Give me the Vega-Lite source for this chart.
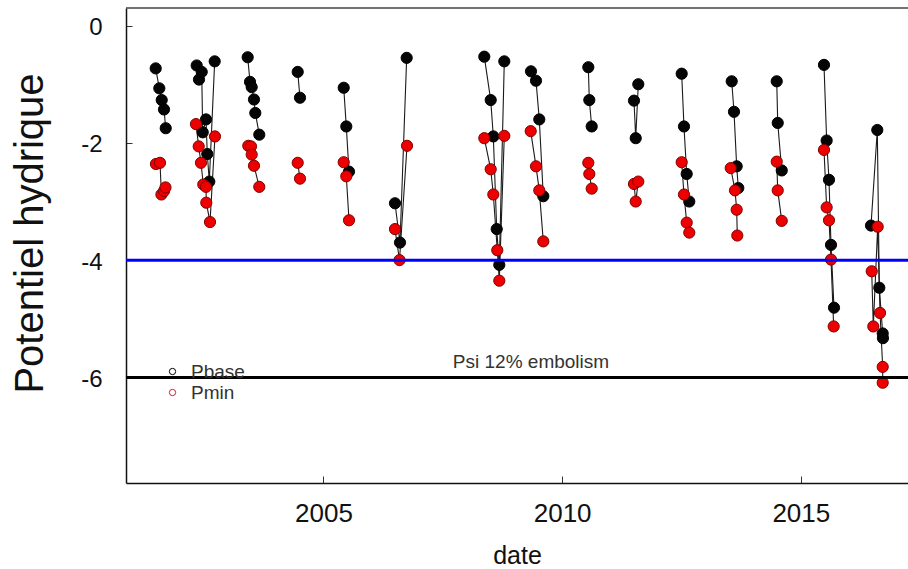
{
  "$schema": "https://vega.github.io/schema/vega-lite/v6.json",
  "width": 782,
  "height": 475,
  "autosize": {"type": "none"},
  "padding": {"left": 126, "top": 8, "right": 0, "bottom": 86},
  "background": "white",
  "config": {"view": {"stroke": null}, "font": "Liberation Sans", "axis": {"grid": false}},
  "data": {"values": [
    {"campaign": 2001, "series": "Pbase", "date": 2001.485, "value": -0.73},
    {"campaign": 2001, "series": "Pbase", "date": 2001.561, "value": -1.07},
    {"campaign": 2001, "series": "Pbase", "date": 2001.611, "value": -1.27},
    {"campaign": 2001, "series": "Pbase", "date": 2001.659, "value": -1.43},
    {"campaign": 2001, "series": "Pbase", "date": 2001.695, "value": -1.75},
    {"campaign": 2001, "series": "Pmin", "date": 2001.491, "value": -2.36},
    {"campaign": 2001, "series": "Pmin", "date": 2001.575, "value": -2.34},
    {"campaign": 2001, "series": "Pmin", "date": 2001.605, "value": -2.88},
    {"campaign": 2001, "series": "Pmin", "date": 2001.66, "value": -2.82},
    {"campaign": 2001, "series": "Pmin", "date": 2001.69, "value": -2.76},
    {"campaign": 2002, "series": "Pbase", "date": 2002.344, "value": -0.68},
    {"campaign": 2002, "series": "Pbase", "date": 2002.392, "value": -0.92},
    {"campaign": 2002, "series": "Pbase", "date": 2002.449, "value": -0.79},
    {"campaign": 2002, "series": "Pbase", "date": 2002.47, "value": -1.82},
    {"campaign": 2002, "series": "Pbase", "date": 2002.539, "value": -1.6},
    {"campaign": 2002, "series": "Pbase", "date": 2002.566, "value": -2.19},
    {"campaign": 2002, "series": "Pbase", "date": 2002.608, "value": -2.66},
    {"campaign": 2002, "series": "Pbase", "date": 2002.721, "value": -0.61},
    {"campaign": 2002, "series": "Pmin", "date": 2002.329, "value": -1.68},
    {"campaign": 2002, "series": "Pmin", "date": 2002.386, "value": -2.06},
    {"campaign": 2002, "series": "Pmin", "date": 2002.434, "value": -2.34},
    {"campaign": 2002, "series": "Pmin", "date": 2002.482, "value": -2.71},
    {"campaign": 2002, "series": "Pmin", "date": 2002.539, "value": -2.75},
    {"campaign": 2002, "series": "Pmin", "date": 2002.545, "value": -3.02},
    {"campaign": 2002, "series": "Pmin", "date": 2002.623, "value": -3.35},
    {"campaign": 2002, "series": "Pmin", "date": 2002.727, "value": -1.89},
    {"campaign": 2003, "series": "Pbase", "date": 2003.412, "value": -0.54},
    {"campaign": 2003, "series": "Pbase", "date": 2003.461, "value": -0.96},
    {"campaign": 2003, "series": "Pbase", "date": 2003.496, "value": -1.05},
    {"campaign": 2003, "series": "Pbase", "date": 2003.544, "value": -1.26},
    {"campaign": 2003, "series": "Pbase", "date": 2003.572, "value": -1.49},
    {"campaign": 2003, "series": "Pbase", "date": 2003.655, "value": -1.86},
    {"campaign": 2003, "series": "Pmin", "date": 2003.425, "value": -2.05},
    {"campaign": 2003, "series": "Pmin", "date": 2003.482, "value": -2.06},
    {"campaign": 2003, "series": "Pmin", "date": 2003.496, "value": -2.2},
    {"campaign": 2003, "series": "Pmin", "date": 2003.544, "value": -2.39},
    {"campaign": 2003, "series": "Pmin", "date": 2003.655, "value": -2.75},
    {"campaign": 2004, "series": "Pbase", "date": 2004.46, "value": -0.79},
    {"campaign": 2004, "series": "Pbase", "date": 2004.508, "value": -1.23},
    {"campaign": 2004, "series": "Pmin", "date": 2004.46, "value": -2.34},
    {"campaign": 2004, "series": "Pmin", "date": 2004.508, "value": -2.61},
    {"campaign": 2005, "series": "Pbase", "date": 2005.424, "value": -1.06},
    {"campaign": 2005, "series": "Pbase", "date": 2005.478, "value": -1.72},
    {"campaign": 2005, "series": "Pbase", "date": 2005.535, "value": -2.49},
    {"campaign": 2005, "series": "Pmin", "date": 2005.424, "value": -2.33},
    {"campaign": 2005, "series": "Pmin", "date": 2005.478, "value": -2.57},
    {"campaign": 2005, "series": "Pmin", "date": 2005.535, "value": -3.32},
    {"campaign": 2006, "series": "Pbase", "date": 2006.498, "value": -3.03},
    {"campaign": 2006, "series": "Pbase", "date": 2006.603, "value": -3.7},
    {"campaign": 2006, "series": "Pbase", "date": 2006.743, "value": -0.55},
    {"campaign": 2006, "series": "Pmin", "date": 2006.498, "value": -3.47},
    {"campaign": 2006, "series": "Pmin", "date": 2006.593, "value": -4.0},
    {"campaign": 2006, "series": "Pmin", "date": 2006.75, "value": -2.05},
    {"campaign": 2008, "series": "Pbase", "date": 2008.369, "value": -0.53},
    {"campaign": 2008, "series": "Pbase", "date": 2008.503, "value": -1.27},
    {"campaign": 2008, "series": "Pbase", "date": 2008.558, "value": -1.89},
    {"campaign": 2008, "series": "Pbase", "date": 2008.629, "value": -3.47},
    {"campaign": 2008, "series": "Pbase", "date": 2008.683, "value": -4.08},
    {"campaign": 2008, "series": "Pbase", "date": 2008.788, "value": -0.61},
    {"campaign": 2008, "series": "Pmin", "date": 2008.369, "value": -1.92},
    {"campaign": 2008, "series": "Pmin", "date": 2008.503, "value": -2.45},
    {"campaign": 2008, "series": "Pmin", "date": 2008.558, "value": -2.88},
    {"campaign": 2008, "series": "Pmin", "date": 2008.641, "value": -3.83},
    {"campaign": 2008, "series": "Pmin", "date": 2008.683, "value": -4.35},
    {"campaign": 2008, "series": "Pmin", "date": 2008.788, "value": -1.88},
    {"campaign": 2009, "series": "Pbase", "date": 2009.347, "value": -0.78},
    {"campaign": 2009, "series": "Pbase", "date": 2009.452, "value": -0.94},
    {"campaign": 2009, "series": "Pbase", "date": 2009.521, "value": -1.6},
    {"campaign": 2009, "series": "Pbase", "date": 2009.605, "value": -2.91},
    {"campaign": 2009, "series": "Pmin", "date": 2009.341, "value": -1.8},
    {"campaign": 2009, "series": "Pmin", "date": 2009.452, "value": -2.4},
    {"campaign": 2009, "series": "Pmin", "date": 2009.521, "value": -2.81},
    {"campaign": 2009, "series": "Pmin", "date": 2009.605, "value": -3.68},
    {"campaign": 2010, "series": "Pbase", "date": 2010.548, "value": -0.71},
    {"campaign": 2010, "series": "Pbase", "date": 2010.569, "value": -1.27},
    {"campaign": 2010, "series": "Pbase", "date": 2010.619, "value": -1.72},
    {"campaign": 2010, "series": "Pmin", "date": 2010.548, "value": -2.34},
    {"campaign": 2010, "series": "Pmin", "date": 2010.569, "value": -2.53},
    {"campaign": 2010, "series": "Pmin", "date": 2010.619, "value": -2.78},
    {"campaign": 2011, "series": "Pbase", "date": 2011.505, "value": -1.28},
    {"campaign": 2011, "series": "Pbase", "date": 2011.541, "value": -1.92},
    {"campaign": 2011, "series": "Pbase", "date": 2011.595, "value": -1.0},
    {"campaign": 2011, "series": "Pmin", "date": 2011.505, "value": -2.7},
    {"campaign": 2011, "series": "Pmin", "date": 2011.541, "value": -3.0},
    {"campaign": 2011, "series": "Pmin", "date": 2011.595, "value": -2.66},
    {"campaign": 2012, "series": "Pbase", "date": 2012.504, "value": -0.82},
    {"campaign": 2012, "series": "Pbase", "date": 2012.552, "value": -1.72},
    {"campaign": 2012, "series": "Pbase", "date": 2012.609, "value": -2.53},
    {"campaign": 2012, "series": "Pbase", "date": 2012.663, "value": -3.0},
    {"campaign": 2012, "series": "Pmin", "date": 2012.504, "value": -2.33},
    {"campaign": 2012, "series": "Pmin", "date": 2012.552, "value": -2.88},
    {"campaign": 2012, "series": "Pmin", "date": 2012.609, "value": -3.36},
    {"campaign": 2012, "series": "Pmin", "date": 2012.663, "value": -3.53},
    {"campaign": 2013, "series": "Pbase", "date": 2013.552, "value": -0.95},
    {"campaign": 2013, "series": "Pbase", "date": 2013.6, "value": -1.47},
    {"campaign": 2013, "series": "Pbase", "date": 2013.656, "value": -2.4},
    {"campaign": 2013, "series": "Pbase", "date": 2013.69, "value": -2.77},
    {"campaign": 2013, "series": "Pmin", "date": 2013.531, "value": -2.43},
    {"campaign": 2013, "series": "Pmin", "date": 2013.621, "value": -2.81},
    {"campaign": 2013, "series": "Pmin", "date": 2013.656, "value": -3.14},
    {"campaign": 2013, "series": "Pmin", "date": 2013.669, "value": -3.58},
    {"campaign": 2014, "series": "Pbase", "date": 2014.495, "value": -0.95},
    {"campaign": 2014, "series": "Pbase", "date": 2014.516, "value": -1.66},
    {"campaign": 2014, "series": "Pbase", "date": 2014.6, "value": -2.47},
    {"campaign": 2014, "series": "Pmin", "date": 2014.495, "value": -2.32},
    {"campaign": 2014, "series": "Pmin", "date": 2014.516, "value": -2.81},
    {"campaign": 2014, "series": "Pmin", "date": 2014.6, "value": -3.33},
    {"campaign": 2015, "series": "Pbase", "date": 2015.485, "value": -0.67},
    {"campaign": 2015, "series": "Pbase", "date": 2015.541, "value": -1.96},
    {"campaign": 2015, "series": "Pbase", "date": 2015.59, "value": -2.63},
    {"campaign": 2015, "series": "Pbase", "date": 2015.632, "value": -3.74},
    {"campaign": 2015, "series": "Pbase", "date": 2015.695, "value": -4.81},
    {"campaign": 2015, "series": "Pmin", "date": 2015.485, "value": -2.12},
    {"campaign": 2015, "series": "Pmin", "date": 2015.541, "value": -3.1},
    {"campaign": 2015, "series": "Pmin", "date": 2015.59, "value": -3.32},
    {"campaign": 2015, "series": "Pmin", "date": 2015.632, "value": -3.99},
    {"campaign": 2015, "series": "Pmin", "date": 2015.688, "value": -5.13},
    {"campaign": 2016, "series": "Pbase", "date": 2016.47, "value": -3.41},
    {"campaign": 2016, "series": "Pbase", "date": 2016.602, "value": -1.78},
    {"campaign": 2016, "series": "Pbase", "date": 2016.644, "value": -4.47},
    {"campaign": 2016, "series": "Pbase", "date": 2016.715, "value": -5.25},
    {"campaign": 2016, "series": "Pbase", "date": 2016.72, "value": -5.33},
    {"campaign": 2016, "series": "Pmin", "date": 2016.485, "value": -4.19},
    {"campaign": 2016, "series": "Pmin", "date": 2016.518, "value": -5.13},
    {"campaign": 2016, "series": "Pmin", "date": 2016.61, "value": -3.43},
    {"campaign": 2016, "series": "Pmin", "date": 2016.659, "value": -4.9},
    {"campaign": 2016, "series": "Pmin", "date": 2016.715, "value": -5.82},
    {"campaign": 2016, "series": "Pmin", "date": 2016.715, "value": -6.09}
  ]},
  "layer": [
    {
      "mark": {"type": "line", "color": "#1a1a1a", "strokeWidth": 1.1},
      "encoding": {
        "x": {
          "field": "date", "type": "quantitative",
          "scale": {"domain": [2000.863, 2017.245], "nice": false, "zero": false},
          "axis": {
            "values": [2005, 2010, 2015], "format": "d", "title": "date",
            "labelFontSize": 26, "labelColor": "#111111", "labelPadding": 24,
            "tickSize": -7, "tickColor": "#333333", "tickWidth": 1,
            "domainColor": "#111111", "domainWidth": 1.5,
            "titleFontSize": 25, "titleFontWeight": "normal", "titleColor": "#111111",
            "titleY": 80, "titleBaseline": "alphabetic"
          }
        },
        "y": {
          "field": "value", "type": "quantitative",
          "scale": {"domain": [-7.8, 0.3], "nice": false, "zero": false},
          "axis": {
            "values": [0, -2, -4, -6], "labelExpr": "datum.value + ''", "title": "Potentiel hydrique",
            "labelFontSize": 24, "labelColor": "#111111", "labelPadding": 30, "labelOffset": 2,
            "tickSize": -6, "tickColor": "#333333", "tickWidth": 1,
            "domainColor": "#111111", "domainWidth": 1.5,
            "titleFontSize": 40, "titleFontWeight": "normal", "titleColor": "#111111",
            "titleX": -96, "titleY": 225, "titleAngle": -90, "titleBaseline": "middle", "titleAlign": "center"
          }
        },
        "detail": [{"field": "campaign", "type": "nominal"}, {"field": "series", "type": "nominal"}],
        "order": {"field": "date", "type": "quantitative"}
      }
    },
    {
      "mark": {"type": "point", "filled": true, "shape": "circle", "size": 125, "strokeWidth": 1, "opacity": 1},
      "encoding": {
        "x": {"field": "date", "type": "quantitative"},
        "y": {"field": "value", "type": "quantitative"},
        "fill": {"condition": {"test": "datum.series === 'Pmin'", "value": "#ee0000"}, "value": "#050505"},
        "stroke": {"condition": {"test": "datum.series === 'Pmin'", "value": "#800000"}, "value": "#000000"}
      }
    },
    {
      "mark": {"type": "point", "filled": false, "shape": "circle", "size": 10, "strokeWidth": 1, "opacity": 0},
      "encoding": {
        "x": {"field": "date", "type": "quantitative"},
        "y": {"field": "value", "type": "quantitative"},
        "stroke": {
          "field": "series", "type": "nominal",
          "scale": {"domain": ["Pbase", "Pmin"], "range": ["#000000", "#cc2233"]},
          "legend": {
            "title": null, "orient": "none", "legendX": 37, "legendY": 354, "direction": "vertical",
            "labelFontSize": 19, "labelColor": "#333333", "labelFont": "Liberation Sans",
            "symbolType": "circle", "symbolSize": 40, "symbolStrokeWidth": 1, "symbolFillColor": "transparent",
            "symbolOpacity": 1, "labelOffset": 9, "rowPadding": 1, "padding": 0
          }
        }
      }
    },
    {
      "data": {"values": [{}]},
      "mark": {"type": "rule", "color": "#444444", "strokeWidth": 1.5},
      "encoding": {"y": {"datum": 0.3, "type": "quantitative"}}
    },
    {
      "data": {"values": [{}]},
      "mark": {"type": "rule", "color": "#0000ff", "strokeWidth": 3},
      "encoding": {"y": {"datum": -4, "type": "quantitative"}}
    },
    {
      "data": {"values": [{}]},
      "mark": {"type": "rule", "color": "#000000", "strokeWidth": 3},
      "encoding": {"y": {"datum": -6, "type": "quantitative"}}
    },
    {
      "data": {"values": [{}]},
      "mark": {"type": "text", "text": "Psi 12% embolism", "fontSize": 19, "font": "Liberation Sans", "color": "#333333", "align": "center", "baseline": "alphabetic"},
      "encoding": {
        "x": {"datum": 2009.347, "type": "quantitative"},
        "y": {"datum": -5.844, "type": "quantitative"}
      }
    }
  ]
}
